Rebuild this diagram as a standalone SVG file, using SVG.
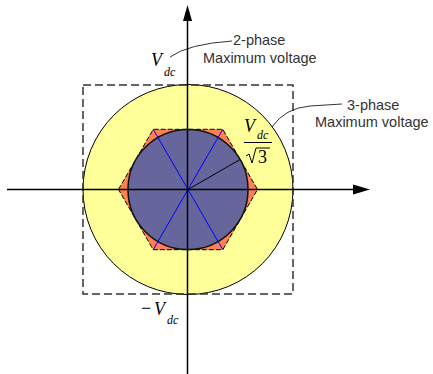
<svg xmlns="http://www.w3.org/2000/svg" width="433" height="374" viewBox="0 0 433 374">
<style>
.lbl{font-family:"Liberation Sans",Arial,sans-serif;font-size:14.5px;fill:#333}
.m{font-family:"Liberation Serif","Times New Roman",serif;font-style:italic;fill:#000}
.ax{stroke:#000;stroke-width:1.5;fill:none}
.lead{stroke:#000;stroke-width:0.8;fill:none}
</style>
<rect width="433" height="374" fill="#fff"/>
<g id="outer-circle"><circle cx="188" cy="189.5" r="105" fill="#FFFF99" stroke="#000" stroke-width="1"/></g>
<g id="square"><rect x="83" y="85" width="210" height="209" fill="none" stroke="#333" stroke-width="1.5" stroke-dasharray="8,4"/></g>
<g id="hexagon"><polygon points="118.5,189.5 153.2,129.3 222.8,129.3 257.5,189.5 222.8,249.7 153.2,249.7" fill="#FF8050" stroke="#000" stroke-width="1" stroke-dasharray="5,2"/></g>
<g id="inner-circle"><circle cx="188" cy="189.5" r="60" fill="#66669C" stroke="#111" stroke-width="1.5"/></g>
<g id="diameters" stroke="#0000FF" stroke-width="1">
<line x1="118.5" y1="189.5" x2="257.5" y2="189.5"/>
<line x1="153.2" y1="129.3" x2="222.8" y2="249.7"/>
<line x1="222.8" y1="129.3" x2="153.2" y2="249.7"/>
</g>
<g id="connectors">
<line class="ax" x1="7" y1="189.5" x2="356" y2="189.5"/>
<polygon points="370,189.5 353,184.5 353,194.5" fill="#000"/>
<line class="ax" x1="187.5" y1="374" x2="187.5" y2="19"/>
<polygon points="187.5,5 183,21 192,21" fill="#000"/>
<line x1="188" y1="189.5" x2="240" y2="159.5" stroke="#000" stroke-width="1"/>
<path class="lead" d="M170,57 Q188,44 232,41"/>
<path class="lead" d="M272,127 Q285,108 310,106 L342,104"/>
</g>
<g id="label-2phase">
<text class="lbl" x="233" y="45">2-phase</text>
<text class="lbl" x="203" y="63">Maximum voltage</text>
</g>
<g id="label-3phase">
<text class="lbl" x="347" y="110">3-phase</text>
<text class="lbl" x="315" y="127">Maximum voltage</text>
</g>
<g id="label-vdc">
<text class="m" x="151" y="66" font-size="18">V</text>
<text class="m" x="164" y="76" font-size="12">dc</text>
</g>
<g id="label-vdc-sqrt3">
<text class="m" x="244" y="132" font-size="18">V</text>
<text class="m" x="257" y="139" font-size="12">dc</text>
<line x1="244" y1="142.5" x2="272" y2="142.5" stroke="#000" stroke-width="1"/>
<path d="M246,156 L249,154 L252,163 L256,148 L270,148" fill="none" stroke="#000" stroke-width="1"/>
<text font-family="Liberation Serif,serif" font-size="18" x="258" y="163">3</text>
</g>
<g id="label-minus-vdc">
<text font-family="Liberation Serif,serif" font-size="18" x="141" y="314">−</text>
<text class="m" x="154" y="315" font-size="18">V</text>
<text class="m" x="167" y="324" font-size="12">dc</text>
</g>
</svg>
